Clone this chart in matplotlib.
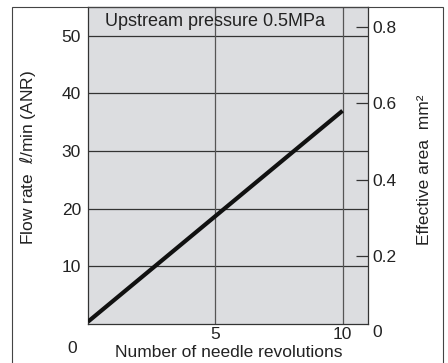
import matplotlib
matplotlib.use('Agg')
import matplotlib.pyplot as plt
from matplotlib.patches import Rectangle

# Data
revolutions = [0, 10]
flow_rate = [0.4, 37.0]

flow_ticks = [10, 20, 30, 40, 50]
area_ticks = [0.2, 0.4, 0.6, 0.8]
rev_ticks = [5, 10]

plt.rcParams['font.family'] = ['Liberation Sans', 'DejaVu Sans']
plt.rcParams['font.size'] = 12.5
plt.rcParams['mathtext.fontset'] = 'dejavusans'
text_color = '#222222'
grid_color = '#333333'

fig = plt.figure(figsize=(4.48, 3.63), dpi=100)
ax = fig.add_axes([88 / 448, 39 / 363, 280 / 448, 317 / 363])
ax.set_facecolor('#dcdde0')

# outer frame around the whole chart (open at the bottom)
frame = Rectangle((12 / 448, -0.05), 431 / 448, 1.05 - 7 / 363,
                  transform=fig.transFigure, fill=False,
                  edgecolor='#444444', linewidth=0.8, clip_on=False)
fig.add_artist(frame)

ax.set_xlim(0, 11)
ax.set_ylim(0, 55)

# grid lines
for y in flow_ticks:
    ax.axhline(y, color=grid_color, linewidth=0.9, zorder=1)
for x in rev_ticks:
    ax.axvline(x, color='#555555', linewidth=0.9, zorder=1)

ax.plot(revolutions, flow_rate, color='#111111', linewidth=3.0,
        solid_capstyle='butt', zorder=3)

ax.set_xticks(rev_ticks)
ax.set_yticks(flow_ticks)
ax.tick_params(axis='both', length=0, colors=text_color)
ax.tick_params(axis='x', pad=2)
ax.tick_params(axis='y', pad=5)
for s in ax.spines.values():
    s.set_color('#333333')
    s.set_linewidth(0.9)

ax.text(5, 52.4, 'Upstream pressure 0.5MPa', ha='center', va='center',
        color=text_color, fontsize=13)

# corner zero label
ax.text(-0.63, -4.2, '0', ha='center', va='center', color=text_color,
        clip_on=False)

ax.set_xlabel('Number of needle revolutions', color=text_color)
ax.xaxis.set_label_coords(0.504, -0.066)
ax.set_ylabel(r'Flow rate  $\ell$/min (ANR)', color=text_color)
ax.yaxis.set_label_coords(-0.179, 0.524)

# right axis: effective area
ax2 = ax.twinx()
ax2.set_ylim(0.0225, 0.851)
ax2.set_yticks(area_ticks)
ax2.set_yticklabels(['0.2', '0.4', '0.6', '0.8'])
ax2.tick_params(axis='y', direction='in', length=8.5, width=0.9,
                color='#333333', pad=3, labelcolor=text_color)
for s in ax2.spines.values():
    s.set_visible(False)
ax2.text(1.015, 0.0, '0', transform=ax2.get_yaxis_transform(),
         ha='left', va='center', color=text_color, clip_on=False)
ax2.set_ylabel('Effective area  mm²', color=text_color)
ax2.yaxis.set_label_coords(1.175, 0.486)

fig.savefig('out.png', dpi=100)
